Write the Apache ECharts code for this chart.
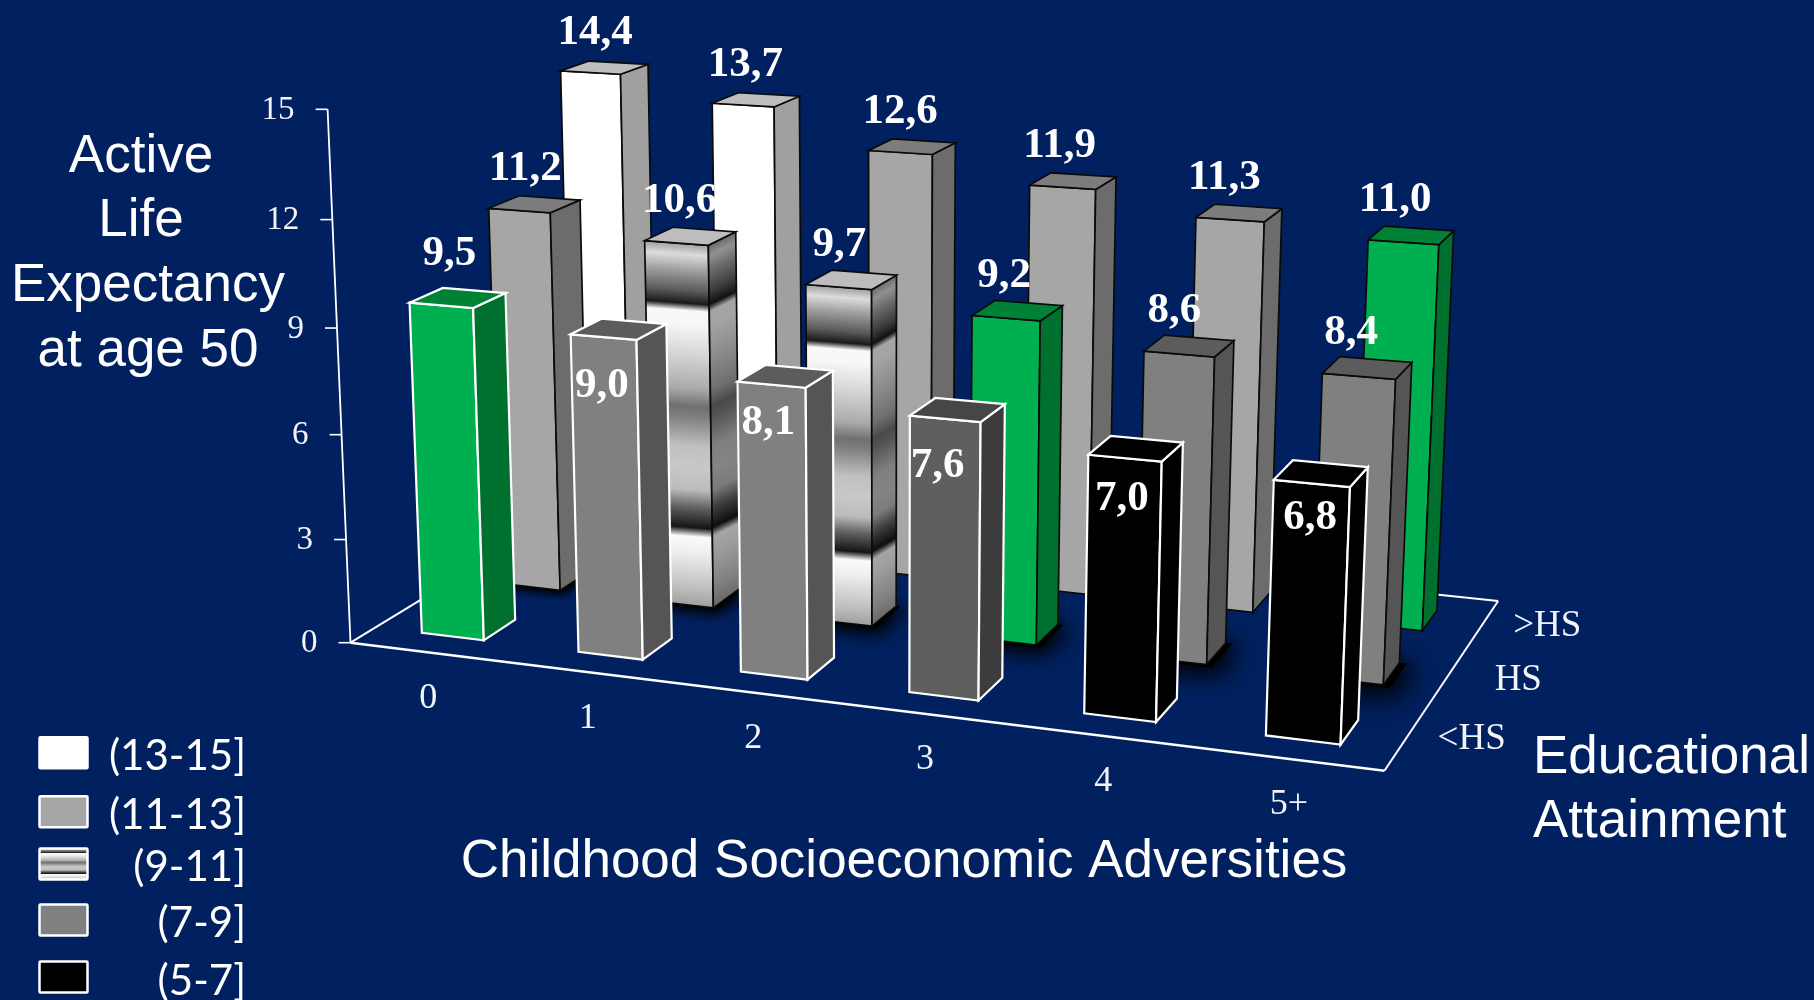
<!DOCTYPE html>
<html><head><meta charset="utf-8">
<style>html,body{margin:0;padding:0;background:#002060}#c{width:1814px;height:1000px}</style>
<script src="https://cdn.jsdelivr.net/npm/echarts@6/dist/echarts.min.js"></script>
</head><body><div id="c"></div>
<script>
// ---------- data ----------
const categories = ['0','1','2','3','4','5+'];
const rows = ['<HS','HS','>HS'];
const valuesLessHS = [9.5, 9.0, 8.1, 7.6, 7.0, 6.8];
const valuesHS     = [11.2, 10.6, 9.7, 9.2, 8.6, 8.4];
const valuesMoreHS = [14.4, 13.7, 12.6, 11.9, 11.3, 11.0];
const greenCells = ['0|0', '1|3', '2|5'];            // row|category
const zTicks = [0, 3, 6, 9, 12, 15];
const legendLabels = ['(13-15]', '(11-13]', '(9-11]', '(7-9]', '(5-7]'];
const titleLines = ['Active', 'Life', 'Expectancy', 'at age 50'];
const xTitle = 'Childhood Socioeconomic Adversities';
const yTitleLines = ['Educational', 'Attainment'];

// ---------- layout / style ----------
const zMax = 15, BAR = 0.4, GAP = 0.3;
const cam = { O:[350.5,642.7], A:[1384.4,770.7], B:[577.3,504.3], C:[327.6,109.3], a:0.893, b:1.136, c:0.959 };
const frontLabelDx = [0, -17, -17, -20, -14, -11];
const frontLabelDy = [0, 57, 47, 56, 50, 44];
const rowLabelDx = [66, 73, 66];
const serif = '"Liberation Serif","Times New Roman",serif';
const sans = '"Liberation Sans",Arial,sans-serif';
const palette = {
  white:{front:'#FFFFFF',side:'#A0A0A0',top:'#BEBEBE'},
  light:{front:'#A6A6A6',side:'#6C6C6C',top:'#7C7C7C'},
  band: {front:null,side:null,top:'#BDBDBD'},
  mid:  {front:'#808080',side:'#555555',top:'#5C5C5C'},
  dim:  {front:'#5F5F5F',side:'#3C3C3C',top:'#464646'},
  black:{front:'#000000',side:'#000000',top:'#000000'},
  green:{front:'#00B050',side:'#00702F',top:'#008236'}
};
// grey level of the banded fill, from top (0) to bottom (1) of a bar
const bandStops = [[0,0xA0],[.03,0xDC],[.07,0xA4],[.13,0x5A],[.165,0x1A],[.185,0xF8],[.22,0xF8],[.30,0xD8],[.40,0xAA],[.45,0x70],[.48,0x80],[.56,0xC0],[.62,0xC8],[.68,0xBC],[.73,0x60],[.785,0x15],[.81,0xFA],[.85,0xF0],[.95,0xC0],[1,0xA0]];
function greyCss(g){g=Math.round(g);return 'rgb('+g+','+g+','+g+')';}
function project(x,y,v){
  const z=v/zMax,c=cam;
  const w=1+(c.a-1)*x+(c.b-1)*y+(c.c-1)*z;
  const f=i=>(c.O[i]+x*(c.a*c.A[i]-c.O[i])+y*(c.b*c.B[i]-c.O[i])+z*(c.c*c.C[i]-c.O[i]))/w;
  return [f(0),f(1)];
}
function bandOf(v,row,cat){
  if(greenCells.includes(row+'|'+cat)) return 'green';
  if(v>13) return 'white';
  if(v>11) return 'light';
  if(v>9) return 'band';
  if(v>7.8) return 'mid';
  if(v>7) return 'dim';
  return 'black';
}
function slotX(cat){return (cat+GAP)/categories.length;}
function slotY(row){return (row+GAP)/rows.length;}
const barW=BAR/categories.length, barD=BAR/rows.length;

// smooth grey gradient over a face whose top edge runs from tl to tr and bottom edge from bl to br
function faceGradient(tl,tr,bl,br,k){
  const dx=tr[0]-tl[0],dy=tr[1]-tl[1],L=Math.hypot(dx,dy),nx=-dy/L,ny=dx/L;
  const sx=(tl[0]+tr[0])/2,sy=(tl[1]+tr[1])/2,mx=(bl[0]+br[0])/2,my=(bl[1]+br[1])/2;
  const d=(mx-sx)*nx+(my-sy)*ny;
  return {type:'linear',global:true,x:sx,y:sy,x2:sx+nx*d,y2:sy+ny*d,
    colorStops:bandStops.map(s=>({offset:s[0],color:greyCss(s[1]*k)}))};
}
function renderBar(params,api){
  const cat=api.value(0),row=api.value(1),v=api.value(2);
  const P=(x,y,val)=>api.coord(project(x,y,val));
  const x0=slotX(cat),x1=x0+barW,y0=slotY(row),y1=y0+barD;
  const band=bandOf(v,row,cat),pal=palette[band];
  const edge=row===0?{stroke:'#FFFFFF',lineWidth:2.2}:{stroke:'#0A0A0A',lineWidth:1.7};
  const kids=[];
  const poly=(pts,fill,st)=>kids.push({type:'polygon',silent:true,shape:{points:pts},style:Object.assign({fill:fill},st||{})});
  if(row===1){ // soft floor shadow of the middle row
    const e=0.002+0.006*x0, ed=0.004+0.012*x0, foot=[P(x0,y0-ed,0),P(x1+e,y0-ed,0),P(x1+e,y1,0),P(x0,y1,0)];
    poly(foot,'#000',{shadowBlur:10+34*x0,shadowColor:'#000',shadowOffsetX:2+7*x0,shadowOffsetY:2+4*x0});
    poly(foot,'#000',{shadowBlur:8+18*x0,shadowColor:'#000',shadowOffsetX:1+4*x0,shadowOffsetY:1+3*x0});
  }
  const fTL=P(x0,y0,v),fTR=P(x1,y0,v),fBR=P(x1,y0,0),fBL=P(x0,y0,0);
  const sTR=P(x1,y1,v),sBR=P(x1,y1,0);
  const frontFill=band==='band'?faceGradient(fTL,fTR,fBL,fBR,1):pal.front;
  const sideFill=band==='band'?faceGradient(fTR,sTR,fBR,sBR,.66):pal.side;
  poly([fTL,fTR,fBR,fBL],frontFill,edge);
  poly([fTR,sTR,sBR,fBR],sideFill,edge);
  poly([fTL,fTR,sTR,P(x0,y1,v)],pal.top,edge);
  return {type:'group',children:kids};
}
function renderLabel(params,api){
  const cat=api.value(0),row=api.value(1),v=api.value(2);
  const x0=slotX(cat),y0=slotY(row),xm=x0+barW/2,ym=y0+barD/2;
  const c=api.coord(project(xm,ym,v));
  let dx,dy;
  if(row===0&&cat>0){dx=frontLabelDx[cat];dy=frontLabelDy[cat];}
  else if(row===0){dx=-8.5;dy=-44;}
  else{dx=-9-8*x0;dy=-35;}
  return {type:'text',silent:true,style:{text:v.toFixed(1).replace('.',','),x:c[0]+dx,y:c[1]+dy,
    fill:'#FFFFFF',font:'bold 43px '+serif,align:'center',verticalAlign:'middle'}};
}
function renderFrame(params,api){
  const P=(x,y,val)=>api.coord(project(x,y,val));
  const line=(a,b,w)=>({type:'line',silent:true,shape:{x1:a[0],y1:a[1],x2:b[0],y2:b[1]},style:{stroke:'#FFFFFF',lineWidth:w}});
  const text=(t,x,y,al,s)=>({type:'text',silent:true,style:{text:t,x:x,y:y,fill:'#F2F4F8',font:s+'px '+serif,align:al||'center',verticalAlign:'middle'}});
  const kids=[line(P(0,0,0),P(1,0,0),2.4),line(P(1,0,0),P(1,1,0),2),line(P(1,1,0),P(0,1,0),2),line(P(0,1,0),P(0,0,0),2),line(P(0,0,0),P(0,0,zMax),1.8)];
  zTicks.forEach(t=>{const p=P(0,0,t);kids.push(line(p,[p[0]-12,p[1]],1.6));kids.push(text(String(t),p[0]-33,p[1]+1,'right',33));});
  categories.forEach((c,i)=>{const p=P((i+.5)/categories.length,0,0);kids.push(text(c,p[0],p[1]+46,'center',36));});
  rows.forEach((r,j)=>{const p=P(1,(j+.5)/rows.length,0);kids.push(text(r,p[0]+rowLabelDx[j],p[1],'center',37));});
  return {type:'group',children:kids};
}
const dataOf=(vals,row)=>vals.map((v,i)=>[i,row,v]);
const rowSeries=[[valuesMoreHS,2,'>HS'],[valuesHS,1,'HS'],[valuesLessHS,0,'<HS']];
const series=[{type:'custom',name:'frame',data:[[0,0,0]],renderItem:renderFrame,clip:false,silent:true,animation:false,z:1}];
rowSeries.forEach(r=>series.push({type:'custom',name:r[2],data:dataOf(r[0],r[1]),renderItem:renderBar,clip:false,silent:true,animation:false,z:2}));
rowSeries.forEach(r=>series.push({type:'custom',name:r[2]+' labels',data:dataOf(r[0],r[1]),renderItem:renderLabel,clip:false,silent:true,animation:false,z:3}));

// ---------- static texts and legend ----------
const gfx=[];
const bigFont='53px '+sans;
const big=(t,x,y,al)=>gfx.push({type:'text',silent:true,x:x,y:y,style:{text:t,fill:'#FFFFFF',font:bigFont,align:al||'center',verticalAlign:'middle'}});
const titleX=[141,141,148,148];
titleLines.forEach((t,i)=>big(t,titleX[i],157+i*64.7));
big(xTitle,904,862);
yTitleLines.forEach((t,i)=>big(t,1533,758+i*64,'left'));
const legendTop=[735.7,794.7,847,903,960];
const legendText=[756.7,815,867,923,981];
const bandGradient=new echarts.graphic.LinearGradient(0,0,0,1,bandStops.map(s=>({offset:s[0],color:greyCss(s[1])})));
const legendFill=[{f:'#FFFFFF'},{f:'#A6A6A6'},{f:bandGradient},{f:'#808080'},{f:'#000000'}];
legendLabels.forEach((t,i)=>{
  gfx.push({type:'rect',silent:true,shape:{x:39.5,y:legendTop[i]+1.5,width:48,height:31,r:1},style:{fill:legendFill[i].f,stroke:'#FFFFFF',lineWidth:2.5}});
  gfx.push({type:'text',silent:true,x:246,y:legendText[i],style:{text:t,fill:'#FFFFFF',font:'42px Lato,"Open Sans",sans-serif',align:'right',verticalAlign:'middle'}});
});

const chart=echarts.init(document.getElementById('c'));
chart.setOption({
  backgroundColor:'#002060',
  animation:false,
  grid:{left:0,right:0,top:0,bottom:0},
  xAxis:{type:'value',min:0,max:1814,show:false},
  yAxis:{type:'value',min:0,max:1000,inverse:true,show:false},
  tooltip:{show:false},
  series:series,
  graphic:gfx
});
</script></body></html>
